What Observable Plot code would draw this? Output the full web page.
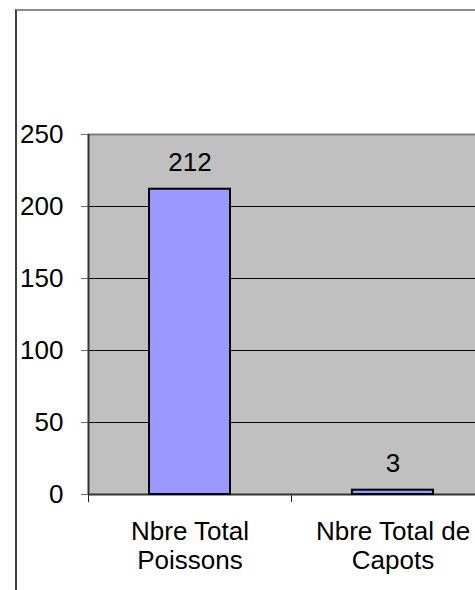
<!DOCTYPE html>
<html>
<head>
<meta charset="utf-8">
<script src="https://cdn.jsdelivr.net/npm/d3@7"></script>
<script src="https://cdn.jsdelivr.net/npm/@observablehq/plot@0.6"></script>
<style>
  html, body { margin: 0; padding: 0; background: #fff; overflow: hidden; width: 475px; height: 590px; }
  #outer { position: absolute; left: 15px; top: 9px; width: 700px; height: 700px;
           border-left: 2px solid #404040; border-top: 2px solid #8a8a8a; }
  #chart { position: absolute; left: 0; top: 0; width: 520px; }
  #chart svg { max-width: none !important; width: 520px; height: 590px; }
</style>
</head>
<body>
<div id="outer"></div>
<div id="chart"></div>
<script>
const categories = ["Nbre Total\nPoissons", "Nbre Total de\nCapots"];
const values = [212, 3];
const yTicks = [0, 50, 100, 150, 200, 250];
const gridValues = [50, 100, 150, 200];
const xBoundaries = [0, 1, 2];

const data = categories.map((c, i) => ({cat: c, i, v: values[i]}));
const font = "'Liberation Sans', Arial, Helvetica, sans-serif";

const chart = Plot.plot({
  width: 520,
  height: 590,
  marginLeft: 88,
  marginRight: 26,
  marginTop: 134,
  marginBottom: 96,
  style: {fontFamily: font, fontSize: "26px", background: "transparent", color: "black", maxWidth: "none"},
  x: {type: "linear", domain: [0, 2], label: null},
  y: {domain: [0, 250], label: null},
  marks: [
    Plot.frame({fill: "#c0c0c0", stroke: "none"}),
    Plot.ruleY(gridValues, {stroke: "black", strokeWidth: 1}),
    Plot.ruleY([250], {stroke: "#808080", strokeWidth: 2}),
    Plot.axisY({ticks: yTicks, tickSize: 7, tickPadding: 18, stroke: "#707070", fill: "black", fontSize: 26, label: null}),
    Plot.axisX({ticks: xBoundaries, tickSize: 8, tickFormat: () => "", stroke: "#222", label: null}),
    Plot.ruleX([0], {stroke: "#333", strokeWidth: 2}),
    Plot.ruleY([0], {stroke: "#333", strokeWidth: 2}),
    Plot.rectY(data, {x1: d => d.i, x2: d => d.i + 1, y: "v", insetLeft: 61, insetRight: 61,
      fill: "#9999ff", stroke: "black", strokeWidth: 2}),
    Plot.text(data, {x: d => d.i + 0.5, y: "v", text: d => String(d.v), lineAnchor: "bottom",
      dy: -18, fontSize: 26, fill: "black"}),
    Plot.text(data, {x: d => d.i + 0.5, y: 0, text: "cat", lineAnchor: "top", dy: 24.5,
      lineHeight: 1.12, fontSize: 26, fill: "black"})
  ]
});
document.getElementById("chart").appendChild(chart);
</script>
</body>
</html>
